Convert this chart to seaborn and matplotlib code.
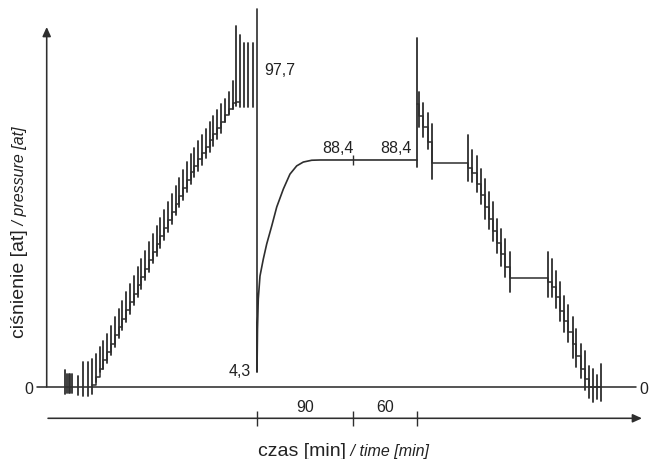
import matplotlib
matplotlib.use("Agg")
import matplotlib.pyplot as plt
import pandas as pd
import seaborn as sns

# ---------------- data: time in min (0 = start of hold), pressure in at ----------------
# pump strokes at zero pressure
pre_t = [-180.0, -178.1, -176.7, -175.3, -173.9, -167.8, -163.1, -158.4]
pre_lo = [-2.7, -2.3, -2.3, -2.3, -2.3, -3.1, -3.5, -3.5]
pre_hi = [6.6, 5.1, 5.1, 5.1, 5.1, 4.3, 9.7, 9.7]

# stepwise pressure build-up
ramp_t = [-154.7, -151.1, -147.6, -144.0, -140.4, -136.9, -133.3, -129.8, -126.2, -122.6,
          -119.1, -115.5, -112.0, -108.4, -104.8, -101.3, -97.7, -94.2, -90.6, -87.0,
          -83.5, -79.9, -76.4, -72.8, -69.2, -65.7, -62.1, -58.6, -55.0, -51.4,
          -47.9, -44.3, -40.8, -37.2, -33.6, -30.1, -26.5, -22.9, -19.3]
ramp_level = [0.8, 4.0, 7.2, 10.5, 13.7, 16.9, 20.2, 23.4, 26.6, 29.9,
              33.1, 36.3, 39.6, 42.8, 46.0, 49.3, 52.6, 55.7, 58.8, 61.9,
              65.0, 68.1, 71.3, 74.4, 77.5, 80.6, 83.7, 86.2, 88.6, 91.1,
              93.5, 96.0, 98.4, 100.9, 103.3, 105.8, 108.3, 110.6, 111.0]
ramp_lo = [-2.7, 1.9, 5.8, 7.0, 9.2, 12.4, 15.7, 18.9, 22.1, 25.4,
           28.6, 31.8, 35.1, 38.3, 41.5, 44.8, 48.1, 51.2, 54.3, 57.4,
           60.5, 63.6, 66.8, 69.9, 73.0, 76.1, 79.2, 81.7, 84.1, 86.6,
           89.0, 91.5, 93.9, 96.4, 98.8, 103.2, 106.3, 108.3, 109.4]
ramp_hi = [10.9, 12.9, 15.6, 17.9, 20.7, 23.9, 27.2, 30.4, 33.6, 36.9,
           40.1, 43.3, 46.6, 49.8, 53.0, 56.3, 59.6, 62.7, 65.8, 68.9,
           72.0, 75.1, 78.3, 81.4, 84.5, 87.6, 90.7, 93.2, 95.6, 98.1,
           100.5, 103.0, 105.4, 107.9, 110.3, 112.1, 114.9, 119.2, 140.6]

# strokes at maximum pressure
top_t = [-16.4, -12.2, -8.0, -3.8]
top_lo = [109.0, 109.0, 109.0, 109.0]
top_hi = [137.1, 134.0, 134.0, 134.0]

# release to 4,3 and recovery to 88,4, then hold (90 + 60 min)
rec_t = [0.0, 0.0, 0.47, 1.2, 2.8, 5.9, 9.1, 13.8, 18.5, 24.7, 30.9, 37.2, 43.4, 51.3,
         59.1, 90.0, 150.0]
rec_p = [147.2, 5.8, 22.6, 34.3, 43.2, 49.8, 55.7, 62.7, 70.1, 77.1, 82.9, 86.1, 87.6, 88.3,
         88.4, 88.4, 88.4]

# stepwise decompression
desc_t = [150.0, 151.9, 155.3, 160.0, 164.3,
          197.5, 201.8, 206.0, 210.0, 213.5, 217.5, 221.5, 225.3, 229.0, 232.8, 237.2,
          273.1, 276.4, 280.3, 284.1, 288.1, 292.0, 295.8, 299.5, 303.5, 307.2, 311.3,
          315.2, 319.0, 322.5]
desc_level = [110.2, 105.5, 101.2, 95.4, 87.2,
              85.3, 83.3, 79.0, 74.8, 70.1, 65.4, 60.7, 56.1, 51.8, 46.7, 42.6,
              41.0, 38.8, 34.9, 29.7, 25.8, 21.3, 16.7, 12.2, 7.0, 3.1, 0.0,
              0.0, 0.0, 0.0]
desc_lo = [85.7, 101.2, 97.4, 92.7, 81.0,
           80.2, 79.8, 75.9, 71.3, 65.4, 61.5, 56.9, 52.2, 47.1, 42.8, 37.0,
           35.0, 35.0, 30.8, 25.7, 21.4, 17.5, 11.3, 7.8, 3.5, -1.2, -4.3,
           -5.8, -4.7, -5.5]
desc_hi = [135.9, 114.9, 110.6, 106.7, 102.4,
           98.1, 92.3, 90.0, 84.9, 81.0, 75.9, 72.0, 65.4, 61.5, 57.6, 52.6,
           52.6, 49.8, 45.2, 40.9, 35.4, 31.9, 27.3, 22.6, 16.7, 14.0, 8.2,
           7.0, 4.7, 9.0]

time_marks = [0, 90, 150]
phase_labels = ["90", "60"]
value_labels = {"97,7": (147.2 - 23.4), "4,3": 6.6, "88,4": 93.1}

# ---------------- styling ----------------
sns.set_theme(style="white")
plt.rcParams["font.family"] = ["Liberation Sans", "DejaVu Sans"]
LINE = "#2e2e2e"
TEXT = "#222222"

W, H = 649, 460
PX_PER_MIN = 1.0667
PX_PER_AT = 2.568
X0_PX, Y0_PX = 257, 388  # pixel position of t=0, p=0

fig = plt.figure(figsize=(W / 100, H / 100), dpi=100)
ax = fig.add_axes([0, 0, 1, 1])
ax.set_xlim(-X0_PX / PX_PER_MIN, (W - X0_PX) / PX_PER_MIN)
ax.set_ylim(-(H - Y0_PX) / PX_PER_AT, Y0_PX / PX_PER_AT)
ax.set_axis_off()


def px_t(x):
    return (x - X0_PX) / PX_PER_MIN


def px_p(y):
    return (Y0_PX - y) / PX_PER_AT


# bars (vertical stroke marks)
rows = []
bid = 0
for ts, los, his in [(pre_t, pre_lo, pre_hi), (ramp_t, ramp_lo, ramp_hi),
                     (top_t, top_lo, top_hi), (desc_t, desc_lo, desc_hi)]:
    for t, lo, hi in zip(ts, los, his):
        rows.append({"t": t, "p": lo, "bar": bid})
        rows.append({"t": t, "p": hi, "bar": bid})
        bid += 1
bars = pd.DataFrame(rows)
sns.lineplot(data=bars, x="t", y="p", units="bar", estimator=None, sort=False,
             color=LINE, lw=1.3, ax=ax)

# staircases
ramp_df = pd.DataFrame({"t": ramp_t + [top_t[0]], "p": ramp_level + [ramp_level[-1]]})
sns.lineplot(data=ramp_df, x="t", y="p", estimator=None, sort=False,
             drawstyle="steps-post", color=LINE, lw=1.1, ax=ax)
desc_df = pd.DataFrame({"t": desc_t, "p": desc_level})
sns.lineplot(data=desc_df, x="t", y="p", estimator=None, sort=False,
             drawstyle="steps-post", color=LINE, lw=1.1, ax=ax)

# release & recovery curve
rec_df = pd.DataFrame({"t": rec_t, "p": rec_p})
sns.lineplot(data=rec_df, x="t", y="p", estimator=None, sort=False,
             color=LINE, lw=1.2, ax=ax)
ax.vlines(time_marks[1], px_p(166), px_p(156), color=LINE, lw=1.0)

# axes: zero line, y arrow, time arrow
ax.plot([px_t(36.5), px_t(636)], [0, 0], color=LINE, lw=1.15)
arrow = dict(arrowstyle="-|>,head_length=0.55,head_width=0.25", color=LINE, lw=1.15,
             mutation_scale=10, shrinkA=0, shrinkB=0)
ax.annotate("", xy=(px_t(46.7), px_p(28)), xytext=(px_t(46.7), 0), arrowprops=arrow)
ty = px_p(419.3)
ax.annotate("", xy=(px_t(642), ty), xytext=(px_t(48), ty), arrowprops=arrow)
ax.vlines(time_marks, px_p(427), px_p(412), color=LINE, lw=1.0)
for a, b, lab in zip(time_marks[:-1], time_marks[1:], phase_labels):
    ax.text((a + b) / 2, px_p(407.5), lab, ha="center", va="center", fontsize=11.5, color=TEXT)

# value annotations
ax.text(px_t(264), value_labels["97,7"], "97,7", ha="left", va="center", fontsize=11.5, color=TEXT)
ax.text(px_t(251), value_labels["4,3"], "4,3", ha="right", va="center", fontsize=11.5, color=TEXT)
for xc in (338, 396):
    ax.text(px_t(xc), value_labels["88,4"], "88,4", ha="center", va="center", fontsize=11.5, color=TEXT)
ax.text(px_t(29), px_p(390), "0", ha="center", va="center", fontsize=11.5, color=TEXT)
ax.text(px_t(639), px_p(390), "0", ha="left", va="center", fontsize=11.5, color=TEXT)

# axis titles (regular + italic)
xb = px_p(456.5)
t1 = ax.text(px_t(258), xb, "czas [min]", ha="left", va="baseline", fontsize=14, color=TEXT)
ax.annotate(" / time [min]", xy=(1, xb), xycoords=(t1, "data"), ha="left", va="baseline",
            fontsize=11.5, style="italic", color=TEXT)
yb = px_t(24.3)
t2 = ax.text(yb, px_p(338), "ciśnienie [at]", rotation=90, rotation_mode="anchor",
             ha="left", va="baseline", fontsize=14, color=TEXT)
ax.annotate(" / pressure [at]", xy=(yb, 1), xycoords=("data", t2), rotation=90,
            rotation_mode="anchor", ha="left", va="baseline", fontsize=11.5,
            style="italic", color=TEXT)

fig.savefig("out.png", dpi=100, facecolor="white")
